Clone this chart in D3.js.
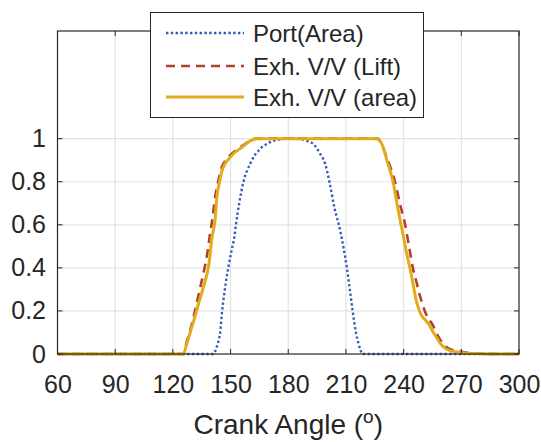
<!DOCTYPE html>
<html><head><meta charset="utf-8">
<script src="https://cdn.jsdelivr.net/npm/d3@7"></script>
<style>body{margin:0;background:#fff}svg{display:block}text{font-family:"Liberation Sans",Arial,sans-serif;fill:#262626}</style>
</head><body><svg id="c" width="541" height="442"></svg>
<script>
const xTicks=[60,90,120,150,180,210,240,270,300];
const yTicks=[0,0.2,0.4,0.6,0.8,1];
const seriesNames=["Port(Area)","Exh. V/V (Lift)","Exh. V/V (area)"];
const portAngle=[60,141,142.9,144,144.6,145.5,146.3,147.5,149,150.5,151.9,152.8,154.5,156.7,158.5,160.2,162.3,164.5,166.5,168.9,171.5,174,178,182,186.2,189.5,193.1,196.6,199.2,201.4,204,207,208.8,210.5,212,213.5,214.3,215.2,216.5,217.5,218.5,300];
const portValue=[0,0,0.035,0.07,0.1,0.19,0.25,0.33,0.41,0.48,0.54,0.6,0.7,0.8,0.85,0.883,0.92,0.944,0.962,0.975,0.988,0.994,0.999,1,0.998,0.99,0.975,0.929,0.883,0.8,0.68,0.574,0.49,0.4,0.3,0.2,0.15,0.1,0.05,0.02,0,0];
const liftAngle=[60,125.5,127,129,131.5,134,136,137.6,139.2,140.6,142,143.8,145.5,147.5,150,155,160,163,226.5,228,230.5,233,235.5,238,240.8,242.8,244.8,246.5,248.5,251,252.8,254.7,256.5,258.1,260.5,263.3,266,269.4,274,280,288,300];
const liftValue=[0,0,0.05,0.11,0.2,0.3,0.38,0.45,0.55,0.63,0.73,0.81,0.87,0.9,0.925,0.96,0.99,1,1,0.985,0.93,0.87,0.8,0.7,0.6,0.5,0.4,0.34,0.27,0.2,0.165,0.142,0.11,0.08,0.05,0.026,0.017,0.011,0.005,0.002,0,0];
const areaAngle=[60,125.5,127,129,132,134.2,136.5,138.8,140.3,141.9,142.9,144.3,145.5,147.2,149,151.5,155.9,160.2,163.7,226,227.5,228.7,231.6,234.5,236.5,238,240,241.5,243.5,245,246.5,248,249.5,251,253,255.5,257.3,259,261.6,264,267,271,276,285,300];
const areaValue=[0,0,0.04,0.1,0.19,0.26,0.33,0.42,0.54,0.62,0.73,0.8,0.85,0.885,0.905,0.93,0.96,0.99,1,1,0.99,0.975,0.89,0.8,0.7,0.63,0.54,0.47,0.39,0.32,0.25,0.205,0.175,0.16,0.14,0.1,0.075,0.05,0.026,0.016,0.01,0.005,0.002,0,0];

const colors=["#3A5CB4","#B5402A","#E0AC1C"];
const svg=d3.select("#c");
const L=57.5,R=519,T=31,B=354;
const x=d3.scaleLinear().domain([60,300]).range([L,R]);
const y=d3.scaleLinear().domain([0,1.5]).range([B,T]);
// grid
const g=svg.append("g");
g.selectAll(".vg").data(xTicks.slice(1,-1)).enter().append("line")
 .attr("x1",d=>x(d)).attr("x2",d=>x(d)).attr("y1",T).attr("y2",B).attr("stroke","#e3e3e3").attr("stroke-width",1.2);
g.selectAll(".hg").data(yTicks.slice(1)).enter().append("line")
 .attr("x1",L).attr("x2",R).attr("y1",d=>y(d)).attr("y2",d=>y(d)).attr("stroke","#e3e3e3").attr("stroke-width",1.2);
// lines
const mk=(a,v)=>a.map((d,i)=>[d,v[i]]);
const line=d3.line().x(d=>x(d[0])).y(d=>y(d[1])).curve(d3.curveMonotoneX);
const dash=["2.4,2.4","9,6",null];
const widths=[2.4,2.6,3];
const data=[mk(portAngle,portValue),mk(liftAngle,liftValue),mk(areaAngle,areaValue)];
data.forEach((d,i)=>{
 const p=svg.append("path").datum(d).attr("d",line).attr("fill","none").attr("stroke",colors[i]).attr("stroke-width",widths[i]);
 if(dash[i]) p.attr("stroke-dasharray",dash[i]);
});
// axes
const xa=svg.append("g").attr("transform",`translate(0,${B})`).call(d3.axisBottom(x).tickValues(xTicks).tickSize(0).tickPadding(21));
xa.select(".domain").remove();
xa.selectAll("text").attr("font-size",25).attr("fill","#262626");
const ya=svg.append("g").attr("transform",`translate(${L},0)`).call(d3.axisLeft(y).tickValues(yTicks).tickFormat(d3.format("~g")).tickSize(0).tickPadding(11.5));
ya.select(".domain").remove();
ya.selectAll("text").attr("font-size",25).attr("fill","#262626");
// ticks inward
const tk=svg.append("g").attr("stroke","#262626").attr("stroke-width",1);
xTicks.forEach(t=>{tk.append("line").attr("x1",x(t)).attr("x2",x(t)).attr("y1",B).attr("y2",B-5);tk.append("line").attr("x1",x(t)).attr("x2",x(t)).attr("y1",T).attr("y2",T+5);});
yTicks.forEach(t=>{tk.append("line").attr("x1",L).attr("x2",L+5).attr("y1",y(t)).attr("y2",y(t));tk.append("line").attr("x1",R).attr("x2",R-5).attr("y1",y(t)).attr("y2",y(t));});
svg.append("rect").attr("x",L).attr("y",T).attr("width",R-L).attr("height",B-T).attr("fill","none").attr("stroke","#262626").attr("stroke-width",1.2);
// x label
const xl=svg.append("text").attr("x",(L+R)/2).attr("y",434).attr("text-anchor","middle").attr("font-size",28);
xl.append("tspan").text("Crank Angle (");
xl.append("tspan").attr("font-size",19).attr("dy",-11).text("o");
xl.append("tspan").attr("dy",11).text(")");
// legend
const lg=svg.append("g");
lg.append("rect").attr("x",150.5).attr("y",12.5).attr("width",273).attr("height",105).attr("fill","#fff").attr("stroke","#262626").attr("stroke-width",1);
const rows=[33,66,97];
seriesNames.forEach((n,i)=>{
 const l=lg.append("line").attr("x1",166).attr("x2",244).attr("y1",rows[i]).attr("y2",rows[i]).attr("stroke",colors[i]).attr("stroke-width",widths[i]);
 if(dash[i]) l.attr("stroke-dasharray",dash[i]);
 lg.append("text").attr("x",253).attr("y",rows[i]+8.5).attr("font-size",24).attr("fill","#000").text(n);
});
</script></body></html>
